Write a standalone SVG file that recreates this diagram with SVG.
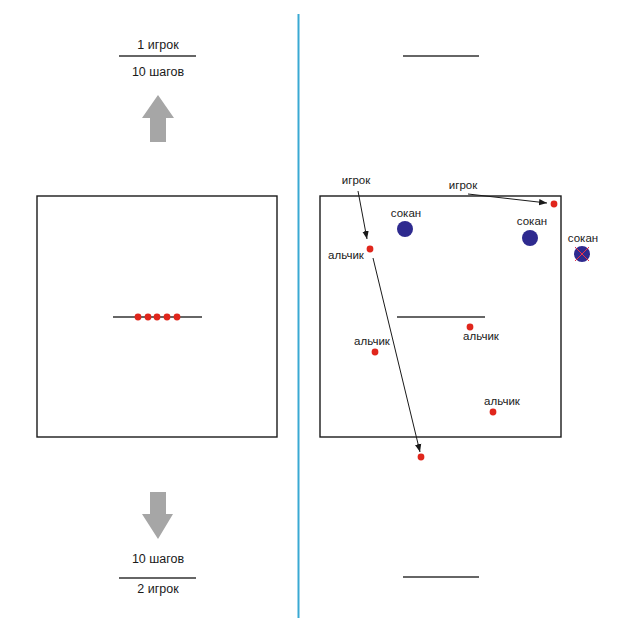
<svg xmlns="http://www.w3.org/2000/svg" width="640" height="634" viewBox="0 0 640 634">
<defs>
<style>
text{font-family:"Liberation Sans",Arial,sans-serif;font-size:11.5px;fill:#1a1a1a}
.big{font-size:12.5px}
.box{fill:none;stroke:#1a1a1a;stroke-width:1.4}
.ln{stroke:#333;stroke-width:1.4}
.dot{fill:#e0261c}
.sok{fill:#2e2a8f}
.garr{fill:#a6a6a6}
.con{stroke:#1a1a1a;stroke-width:1;fill:none;marker-end:url(#ah)}
</style>
<marker id="ah" viewBox="0 0 10 10" refX="10" refY="5" markerWidth="8" markerHeight="8" markerUnits="userSpaceOnUse" orient="auto">
<path d="M0,1 L10,5 L0,9 Z" fill="#1a1a1a"/>
</marker>
</defs>
<rect width="640" height="634" fill="#fff"/>
<line x1="298.5" y1="14" x2="298.5" y2="618" stroke="#3aa9d3" stroke-width="2"/>

<g id="left-top">
<text class="big" x="158" y="49" text-anchor="middle">1 игрок</text>
<line class="ln" x1="119" y1="56" x2="196" y2="56"/>
<text class="big" x="158" y="76" text-anchor="middle">10 шагов</text>
<polygon class="garr" points="158,95 174,118 166,118 166,142 150,142 150,118 142,118"/>
</g>

<g id="left-field">
<rect class="box" x="37" y="196" width="240" height="241"/>
<line class="ln" x1="113" y1="317" x2="202" y2="317"/>
<circle class="dot" cx="138" cy="317" r="3.4"/>
<circle class="dot" cx="148" cy="317" r="3.4"/>
<circle class="dot" cx="157" cy="317" r="3.4"/>
<circle class="dot" cx="167" cy="317" r="3.4"/>
<circle class="dot" cx="177" cy="317" r="3.4"/>
</g>

<g id="left-bottom">
<polygon class="garr" points="150,492 166,492 166,514 173,514 158,539 142,514 150,514"/>
<text class="big" x="158" y="563" text-anchor="middle">10 шагов</text>
<line class="ln" x1="119" y1="578" x2="196" y2="578"/>
<text class="big" x="158" y="593" text-anchor="middle">2 игрок</text>
</g>

<g id="right-top">
<line class="ln" x1="403" y1="56" x2="479" y2="56"/>
</g>
<g id="right-bottom">
<line class="ln" x1="403" y1="577" x2="479" y2="577"/>
</g>

<g id="right-field">
<rect class="box" x="320" y="196" width="241" height="241"/>
<line class="ln" x1="397" y1="317" x2="485" y2="317"/>
</g>

<g id="sokan1">
<circle class="sok" cx="405" cy="229" r="8"/>
<text x="406" y="217" text-anchor="middle">сокан</text>
</g>
<g id="sokan2">
<circle class="sok" cx="530" cy="238" r="8"/>
<text x="532" y="225" text-anchor="middle">сокан</text>
</g>
<g id="sokan3">
<circle class="sok" cx="582" cy="254" r="8"/>
<line x1="575" y1="247" x2="589" y2="261" stroke="#e8334a" stroke-width="1"/>
<line x1="589" y1="247" x2="575" y2="261" stroke="#e8334a" stroke-width="1"/>
<text x="583" y="242" text-anchor="middle">сокан</text>
</g>

<g id="alchik1">
<circle class="dot" cx="370" cy="249" r="3.4"/>
<text x="346" y="259" text-anchor="middle">альчик</text>
</g>
<g id="alchik2">
<circle class="dot" cx="375" cy="352" r="3.4"/>
<text x="372" y="345" text-anchor="middle">альчик</text>
</g>
<g id="alchik3">
<circle class="dot" cx="470" cy="327" r="3.4"/>
<text x="481" y="340" text-anchor="middle">альчик</text>
</g>
<g id="alchik4">
<circle class="dot" cx="493" cy="412" r="3.4"/>
<text x="502" y="405" text-anchor="middle">альчик</text>
</g>
<g id="dot-corner">
<circle class="dot" cx="554" cy="204" r="3.4"/>
</g>
<g id="dot-out">
<circle class="dot" cx="421" cy="457" r="3.4"/>
</g>

<g id="player1">
<text x="356" y="184" text-anchor="middle">игрок</text>
</g>
<g id="player2">
<text x="463" y="189" text-anchor="middle">игрок</text>
</g>

<g id="connectors">
<line class="con" x1="358" y1="191" x2="367" y2="239"/>
<line class="con" x1="468" y1="194" x2="547" y2="203"/>
<line class="con" x1="373" y1="258" x2="420" y2="452"/>
</g>
</svg>
